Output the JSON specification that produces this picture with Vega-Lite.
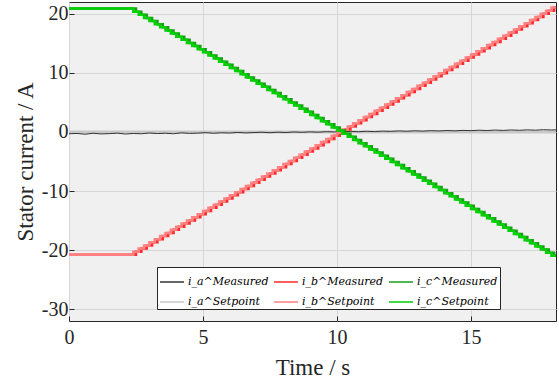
{
  "$schema": "https://vega.github.io/schema/vega-lite/v6.json",
  "width": 487,
  "height": 319,
  "autosize": {"type": "none"},
  "padding": {"left": 69, "top": 2, "right": 3, "bottom": 60},
  "background": "white",
  "config": {
    "view": {"fill": "#f0f0f0", "stroke": "#262626", "strokeWidth": 1},
    "font": "Liberation Serif",
    "axis": {
      "labelFont": "Liberation Serif", "labelFontSize": 20, "labelColor": "#262626",
      "titleFont": "Liberation Serif", "titleFontSize": 23, "titleFontWeight": "normal", "titleColor": "#262626",
      "gridColor": "#d6d6d6", "gridWidth": 1, "domain": false,
      "tickColor": "#262626", "tickSize": -5, "labelPadding": 6,
      "labelExpr": "datum.value + ''"
    }
  },
  "datasets": {
    "iaset": [{"t": 0, "v": 0}, {"t": 18.2, "v": 0}],
    "ia": [
      {"t":0,"v":-0.3},{"t":0.3,"v":-0.25},{"t":0.6,"v":-0.38},{"t":0.9,"v":-0.22},{"t":1.2,"v":-0.33},{"t":1.5,"v":-0.28},{"t":1.8,"v":-0.2},{"t":2.1,"v":-0.35},{"t":2.4,"v":-0.26},{"t":2.7,"v":-0.3},{"t":3.0,"v":-0.18},{"t":3.3,"v":-0.27},{"t":3.6,"v":-0.22},{"t":3.9,"v":-0.3},{"t":4.2,"v":-0.15},{"t":4.5,"v":-0.24},{"t":4.8,"v":-0.2},{"t":5.1,"v":-0.12},{"t":5.4,"v":-0.22},{"t":5.7,"v":-0.14},{"t":6.0,"v":-0.18},{"t":6.3,"v":-0.08},{"t":6.6,"v":-0.16},{"t":6.9,"v":-0.1},{"t":7.2,"v":-0.05},{"t":7.5,"v":-0.13},{"t":7.8,"v":-0.04},{"t":8.1,"v":-0.1},{"t":8.4,"v":0.0},{"t":8.7,"v":-0.06},{"t":9.0,"v":0.02},{"t":9.3,"v":-0.04},{"t":9.6,"v":0.05},{"t":9.9,"v":0.0},{"t":10.2,"v":0.06},{"t":10.5,"v":0.1},{"t":10.8,"v":0.04},{"t":11.1,"v":0.12},{"t":11.4,"v":0.06},{"t":11.7,"v":0.14},{"t":12.0,"v":0.1},{"t":12.3,"v":0.18},{"t":12.6,"v":0.12},{"t":12.9,"v":0.2},{"t":13.2,"v":0.14},{"t":13.5,"v":0.22},{"t":13.8,"v":0.17},{"t":14.1,"v":0.25},{"t":14.4,"v":0.19},{"t":14.7,"v":0.27},{"t":15.0,"v":0.22},{"t":15.3,"v":0.3},{"t":15.6,"v":0.24},{"t":15.9,"v":0.32},{"t":16.2,"v":0.26},{"t":16.5,"v":0.34},{"t":16.8,"v":0.28},{"t":17.1,"v":0.36},{"t":17.4,"v":0.3},{"t":17.7,"v":0.38},{"t":18.0,"v":0.33},{"t":18.2,"v":0.36}
    ],
    "ramp": [
      {"t":0,"ib":-20.8,"ic":20.9},
      {"t":2.4,"ib":-20.8,"ic":20.9},
      {"t":2.6,"ib":-20.27,"ic":20.37},
      {"t":2.8,"ib":-19.74,"ic":19.84},
      {"t":3.0,"ib":-19.21,"ic":19.31},
      {"t":3.2,"ib":-18.68,"ic":18.78},
      {"t":3.4,"ib":-18.15,"ic":18.25},
      {"t":3.6,"ib":-17.62,"ic":17.72},
      {"t":3.8,"ib":-17.09,"ic":17.19},
      {"t":4.0,"ib":-16.56,"ic":16.66},
      {"t":4.2,"ib":-16.03,"ic":16.13},
      {"t":4.4,"ib":-15.5,"ic":15.6},
      {"t":4.6,"ib":-14.97,"ic":15.07},
      {"t":4.8,"ib":-14.44,"ic":14.54},
      {"t":5.0,"ib":-13.91,"ic":14.01},
      {"t":5.2,"ib":-13.38,"ic":13.48},
      {"t":5.4,"ib":-12.85,"ic":12.95},
      {"t":5.6,"ib":-12.32,"ic":12.42},
      {"t":5.8,"ib":-11.79,"ic":11.89},
      {"t":6.0,"ib":-11.26,"ic":11.36},
      {"t":6.2,"ib":-10.73,"ic":10.83},
      {"t":6.4,"ib":-10.2,"ic":10.3},
      {"t":6.6,"ib":-9.67,"ic":9.77},
      {"t":6.8,"ib":-9.14,"ic":9.24},
      {"t":7.0,"ib":-8.61,"ic":8.71},
      {"t":7.2,"ib":-8.08,"ic":8.18},
      {"t":7.4,"ib":-7.55,"ic":7.65},
      {"t":7.6,"ib":-7.02,"ic":7.12},
      {"t":7.8,"ib":-6.49,"ic":6.59},
      {"t":8.0,"ib":-5.96,"ic":6.06},
      {"t":8.2,"ib":-5.43,"ic":5.53},
      {"t":8.4,"ib":-4.9,"ic":5.0},
      {"t":8.6,"ib":-4.37,"ic":4.47},
      {"t":8.8,"ib":-3.84,"ic":3.94},
      {"t":9.0,"ib":-3.31,"ic":3.41},
      {"t":9.2,"ib":-2.78,"ic":2.88},
      {"t":9.4,"ib":-2.25,"ic":2.35},
      {"t":9.6,"ib":-1.72,"ic":1.82},
      {"t":9.8,"ib":-1.19,"ic":1.29},
      {"t":10.0,"ib":-0.66,"ic":0.76},
      {"t":10.2,"ib":-0.13,"ic":0.23},
      {"t":10.4,"ib":0.4,"ic":-0.3},
      {"t":10.6,"ib":0.93,"ic":-0.83},
      {"t":10.8,"ib":1.46,"ic":-1.36},
      {"t":11.0,"ib":1.99,"ic":-1.89},
      {"t":11.2,"ib":2.52,"ic":-2.42},
      {"t":11.4,"ib":3.05,"ic":-2.95},
      {"t":11.6,"ib":3.58,"ic":-3.48},
      {"t":11.8,"ib":4.11,"ic":-4.01},
      {"t":12.0,"ib":4.64,"ic":-4.54},
      {"t":12.2,"ib":5.17,"ic":-5.07},
      {"t":12.4,"ib":5.7,"ic":-5.6},
      {"t":12.6,"ib":6.23,"ic":-6.13},
      {"t":12.8,"ib":6.76,"ic":-6.66},
      {"t":13.0,"ib":7.29,"ic":-7.19},
      {"t":13.2,"ib":7.82,"ic":-7.72},
      {"t":13.4,"ib":8.35,"ic":-8.25},
      {"t":13.6,"ib":8.88,"ic":-8.78},
      {"t":13.8,"ib":9.41,"ic":-9.31},
      {"t":14.0,"ib":9.94,"ic":-9.84},
      {"t":14.2,"ib":10.47,"ic":-10.37},
      {"t":14.4,"ib":11.0,"ic":-10.9},
      {"t":14.6,"ib":11.53,"ic":-11.43},
      {"t":14.8,"ib":12.06,"ic":-11.96},
      {"t":15.0,"ib":12.59,"ic":-12.49},
      {"t":15.2,"ib":13.12,"ic":-13.02},
      {"t":15.4,"ib":13.65,"ic":-13.55},
      {"t":15.6,"ib":14.18,"ic":-14.08},
      {"t":15.8,"ib":14.71,"ic":-14.61},
      {"t":16.0,"ib":15.24,"ic":-15.14},
      {"t":16.2,"ib":15.77,"ic":-15.67},
      {"t":16.4,"ib":16.3,"ic":-16.2},
      {"t":16.6,"ib":16.83,"ic":-16.73},
      {"t":16.8,"ib":17.36,"ic":-17.26},
      {"t":17.0,"ib":17.89,"ic":-17.79},
      {"t":17.2,"ib":18.42,"ic":-18.32},
      {"t":17.4,"ib":18.95,"ic":-18.85},
      {"t":17.6,"ib":19.48,"ic":-19.38},
      {"t":17.8,"ib":20.01,"ic":-19.91},
      {"t":18.0,"ib":20.54,"ic":-20.44},
      {"t":18.2,"ib":21.07,"ic":-20.97}
    ]
  },
  "encoding": {
    "x": {"field": "t", "type": "quantitative", "scale": {"domain": [0, 18.17], "nice": false, "zero": false},
          "axis": {"values": [0, 5, 10, 15], "title": "Time / s", "labelFlush": false, "labelPadding": 11, "titlePadding": 9}}
  },
  "layer": [
    {
      "data": {"name": "iaset"},
      "mark": {"type": "line", "strokeWidth": 3, "clip": true},
      "encoding": {
        "y": {"field": "v", "type": "quantitative", "scale": {"domain": [-32, 22], "nice": false}, "title": "Stator current / A",
              "axis": {"values": [-30, -20, -10, 0, 10, 20], "titlePadding": 4}},
        "color": {"datum": "i_a^Setpoint", "type": "nominal",
                  "scale": {"domain": ["i_a^Measured", "i_b^Measured", "i_c^Measured", "i_a^Setpoint", "i_b^Setpoint", "i_c^Setpoint"],
                            "range": ["#333333", "#ff2a2a", "#1a9e1a", "#c8c8c8", "#ff8080", "#00d000"]},
                  "legend": {
                    "title": null, "orient": "none", "legendX": 88, "legendY": 265, "columns": 3, "direction": "horizontal",
                    "fillColor": "white", "strokeColor": "#262626", "padding": 2,
                    "symbolType": "stroke", "symbolSize": 576, "symbolStrokeWidth": 1.5,
                    "labelFont": "DejaVu Serif", "labelFontSize": 11, "labelFontStyle": "italic", "labelColor": "black",
                    "columnPadding": 2, "rowPadding": 2, "labelLimit": 0, "labelOffset": 3
                  }}
      }
    },
    {
      "data": {"name": "ia"},
      "mark": {"type": "line", "strokeWidth": 1, "clip": true},
      "encoding": {
        "y": {"field": "v", "type": "quantitative", "title": "Stator current / A"},
        "color": {"datum": "i_a^Measured", "type": "nominal"}
      }
    },
    {
      "data": {"name": "ramp"},
      "mark": {"type": "line", "strokeWidth": 2.5, "interpolate": "step", "clip": true},
      "encoding": {
        "y": {"field": "ib", "type": "quantitative", "title": "Stator current / A"},
        "color": {"datum": "i_b^Measured", "type": "nominal"}
      }
    },
    {
      "data": {"name": "ramp"},
      "mark": {"type": "line", "strokeWidth": 2.5, "interpolate": "step-before", "clip": true},
      "encoding": {
        "y": {"field": "ib", "type": "quantitative", "title": "Stator current / A"},
        "color": {"datum": "i_b^Setpoint", "type": "nominal"}
      }
    },
    {
      "data": {"name": "ramp"},
      "mark": {"type": "line", "strokeWidth": 2.5, "interpolate": "step", "clip": true},
      "encoding": {
        "y": {"field": "ic", "type": "quantitative", "title": "Stator current / A"},
        "color": {"datum": "i_c^Measured", "type": "nominal"}
      }
    },
    {
      "data": {"name": "ramp"},
      "mark": {"type": "line", "strokeWidth": 2.5, "interpolate": "step-before", "clip": true},
      "encoding": {
        "y": {"field": "ic", "type": "quantitative", "title": "Stator current / A"},
        "color": {"datum": "i_c^Setpoint", "type": "nominal"}
      }
    }
  ]
}
